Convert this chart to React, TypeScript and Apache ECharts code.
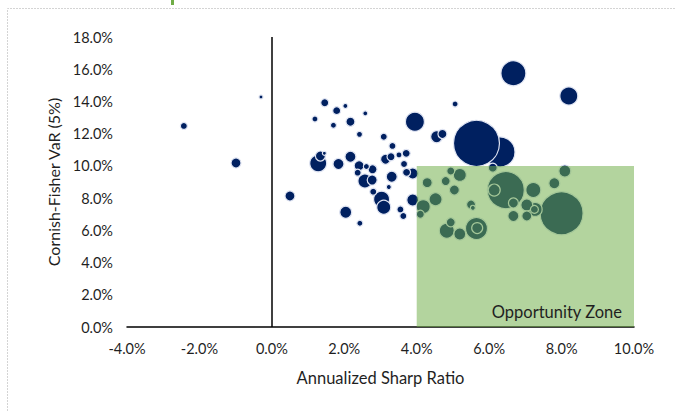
import React, { useEffect, useRef } from "react";
import * as echarts from "echarts";

// Annualized Sharpe ratio (%), Cornish-Fisher VaR (%), bubble size (px diameter)
const sharpe = [
  6.30, 5.65, 6.67, 8.20, 3.95, 1.28, 3.03, 3.09, 2.57, 4.55, 3.89, 2.04,
  3.31, 1.84, 2.17, 3.89, -0.99, 0.50, 1.34, 2.41, 2.77, 3.14, 2.78, 4.71, 2.17,
  -2.43, 1.46, 1.79, 2.42, 3.09, 3.33, 2.37, 2.80, 3.55, 3.63, 3.65, 1.19, 1.70,
  2.43, 2.61, 3.29, 3.71, 3.72, 5.06, 3.51, 2.03, 2.58, 3.23, -0.30, 1.45,
  // inside the opportunity zone
  8.00, 6.46, 5.65, 4.83, 7.22, 7.27, 4.18, 5.19, 4.52, 7.04, 6.14, 8.09, 5.19,
  5.67, 7.80, 6.67, 4.29, 5.04, 6.67, 7.04, 4.80, 5.50, 4.94, 6.10, 4.94, 4.10,
  7.25, 5.55
];
const cfVaR = [
  10.86, 11.40, 15.75, 14.34, 12.74, 10.16, 7.93, 7.43, 9.06, 11.81, 7.88, 7.12,
  9.33, 10.12, 10.57, 9.53, 10.18, 8.13, 10.61, 10.01, 9.12, 10.41, 9.79, 11.98, 12.74,
  12.48, 13.92, 13.43, 11.96, 11.81, 11.24, 9.58, 8.40, 7.30, 6.89, 10.12, 12.91, 12.52,
  6.44, 9.96, 10.57, 10.78, 9.60, 13.84, 10.68, 13.72, 13.26, 8.69, 14.28, 10.78,
  // inside the opportunity zone
  7.06, 8.50, 6.12, 5.98, 8.50, 7.30, 7.47, 9.44, 7.93, 7.57, 8.50, 9.68, 5.77,
  6.14, 8.92, 6.89, 8.96, 8.50, 7.70, 6.89, 9.06, 7.60, 6.50, 9.89, 9.68, 7.00,
  7.30, 7.40
];
const bubbleSize = [
  30, 46, 25, 18, 19, 17, 16, 14, 14, 12, 12, 12,
  11, 11, 11, 11, 10, 10, 10, 10, 10, 10, 9, 9, 9,
  7, 8, 8, 6, 7, 7, 7, 7, 7, 7, 7, 6, 6,
  6, 6, 8, 8, 8, 6, 6, 5, 5, 5, 4, 4,
  43, 37, 22, 15, 15, 14, 14, 13, 13, 12, 12, 12, 12,
  11, 11, 11, 10, 10, 10, 10, 9, 9, 9, 9, 8, 8,
  8, 5
];

const xTicks = { min: -4, max: 10, step: 2 };
const yTicks = { min: 0, max: 18, step: 2 };
const zoneX = [4, 10];
const zoneY = [0, 10];
const zoneLabel = "Opportunity Zone";
const xTitle = "Annualized Sharp Ratio";
const yTitle = "Cornish-Fisher VaR (5%)";

const FONT = "Lato";
const TXT = "#1f1f1f";

export default function App() {
  const ref = useRef<HTMLDivElement>(null);
  useEffect(() => {
    if (!ref.current) return;
    const chart = echarts.init(ref.current, null, { renderer: "svg" });
    const points = sharpe.map((x, i) => [x, cfVaR[i], bubbleSize[i]]);
    chart.setOption({
      animation: false,
      backgroundColor: "#ffffff",
      textStyle: { fontFamily: FONT },
      grid: { left: 127, right: 41, top: 37, bottom: 84 },
      xAxis: {
        type: "value",
        min: xTicks.min,
        max: xTicks.max,
        interval: xTicks.step,
        splitLine: { show: false },
        axisTick: { show: false },
        axisLine: { show: true, onZero: false, lineStyle: { color: "#000", width: 1.5 } },
        axisLabel: {
          color: TXT,
          fontSize: 14.5,
          fontFamily: FONT,
          margin: 14,
          formatter: (v: number) => v.toFixed(1) + "%",
        },
        name: xTitle,
        nameLocation: "middle",
        nameGap: 42,
        nameTextStyle: { color: TXT, fontSize: 16.5, fontFamily: FONT },
      },
      yAxis: {
        type: "value",
        min: yTicks.min,
        max: yTicks.max,
        interval: yTicks.step,
        splitLine: { show: false },
        axisTick: { show: false },
        axisLine: { show: false },
        axisLabel: {
          color: TXT,
          fontSize: 14.5,
          fontFamily: FONT,
          margin: 14,
          formatter: (v: number) => v.toFixed(1) + "%",
        },
        name: yTitle,
        nameLocation: "middle",
        nameGap: 59,
        nameTextStyle: { color: TXT, fontSize: 16, fontFamily: FONT },
      },
      series: [
        {
          type: "scatter",
          z: 2,
          data: points,
          symbolSize: (v: number[]) => v[2],
          itemStyle: { color: "#002060", borderColor: "#dfe4f2", borderWidth: 1.2, opacity: 1 },
          markLine: {
            silent: true,
            symbol: "none",
            label: { show: false },
            lineStyle: { color: "#000", width: 1.5, type: "solid" },
            data: [[{ coord: [0, yTicks.min] }, { coord: [0, yTicks.max] }]],
          },
        },
        {
          type: "custom",
          z: 5,
          clip: false,
          data: [[zoneX[0], zoneX[1], zoneY[0], zoneY[1]]],
          encode: { x: [0, 1], y: [2, 3] },
          renderItem: (params: any, api: any) => {
            const tl = api.coord([api.value(0), api.value(3)]);
            const br = api.coord([api.value(1), api.value(2)]);
            return {
              type: "group",
              children: [
                {
                  type: "rect",
                  shape: { x: tl[0], y: tl[1], width: br[0] - tl[0], height: br[1] - tl[1] },
                  style: { fill: "rgba(112,173,71,0.53)" },
                },
                {
                  type: "text",
                  style: {
                    text: zoneLabel,
                    x: br[0] - 12,
                    y: br[1] - 7,
                    align: "right",
                    verticalAlign: "bottom",
                    fill: TXT,
                    font: "16.5px " + FONT,
                  },
                },
              ],
            };
          },
        },
      ],
      graphic: [
        {
          type: "polyline",
          shape: { points: [[7.5, 411], [7.5, 8.5], [675, 8.5]] },
          style: { stroke: "#d4d4d4", fill: "none", lineWidth: 1, lineDash: [2, 1] },
        },
        {
          type: "rect",
          shape: { x: 171, y: 0, width: 3, height: 5 },
          style: { fill: "#70ad47" },
        },
      ],
    });
    return () => chart.dispose();
  }, []);
  return (
    <div
      ref={ref}
      style={{ position: "fixed", left: 0, top: 0, width: 675, height: 411, background: "#fff" }}
    />
  );
}
